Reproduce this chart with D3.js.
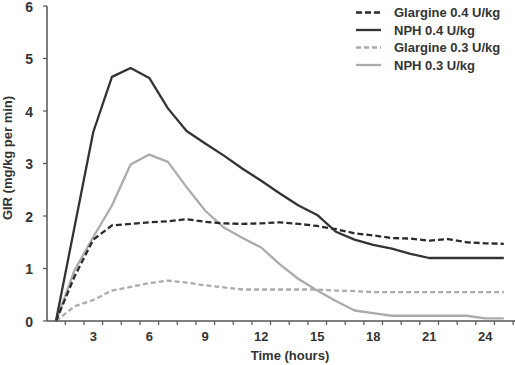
<!DOCTYPE html>
<html><head><meta charset="utf-8">
<script src="https://cdn.jsdelivr.net/npm/d3@7"></script>
<style>
body{margin:0;background:#fff;}
text{font-family:"Liberation Sans",Arial,sans-serif;}
</style></head>
<body><svg id="c" width="515" height="365"></svg>
<script>
const hours = [1,2,3,4,5,6,7,8,9,10,11,12,13,14,15,16,17,18,19,20,21,22,23,24,25];
const nph04 = [0,null,3.6,4.65,4.82,4.63,4.05,3.62,3.38,3.15,2.9,2.67,2.43,2.2,2.02,1.7,1.55,1.45,1.38,1.28,1.2,1.2,1.2,1.2,1.2];
const glar04 = [0,0.85,1.55,1.82,1.85,1.88,1.9,1.94,1.89,1.86,1.85,1.86,1.88,1.85,1.81,1.75,1.67,1.63,1.58,1.57,1.53,1.56,1.5,1.48,1.47];
const nph03 = [0,0.97,1.6,2.2,2.98,3.17,3.03,2.55,2.1,1.78,1.58,1.4,1.08,0.8,0.58,0.38,0.2,0.15,0.1,0.1,0.1,0.1,0.1,0.05,0.05];
const glar03 = [0,0.28,0.4,0.58,0.65,0.72,0.77,0.73,0.68,0.64,0.6,0.6,0.6,0.6,0.6,0.58,0.57,0.55,0.55,0.55,0.55,0.55,0.55,0.55,0.55];
const seriesNames = ["Glargine 0.4 U/kg","NPH 0.4 U/kg","Glargine 0.3 U/kg","NPH 0.3 U/kg"];
const xTickLabels = [3,6,9,12,15,18,21,24];
const yTickLabels = [0,1,2,3,4,5,6];

const svg = d3.select("#c");
const x = d3.scaleLinear().domain([0.52,25.6]).range([47,515]);
const y = d3.scaleLinear().domain([0,6]).range([321,6]);

const series = [
  {name:seriesNames[0], vals:glar04, color:"#2b2b2b", dash:"6,3"},
  {name:seriesNames[1], vals:nph04, color:"#333333", dash:null},
  {name:seriesNames[2], vals:glar03, color:"#ababab", dash:"5,3"},
  {name:seriesNames[3], vals:nph03, color:"#ababab", dash:null}
];

const line = d3.line().x(d=>x(d[0])).y(d=>y(d[1]));
const draw = [series[2], series[3], series[0], series[1]];
draw.forEach(s=>{
  const pts = hours.map((h,i)=>[h,s.vals[i]]).filter(d=>d[1]!==null);
  svg.append("path").attr("d", line(pts)).attr("fill","none")
    .attr("stroke", s.color).attr("stroke-width", 2.3)
    .attr("stroke-linejoin","round")
    .attr("stroke-dasharray", s.dash);
});

// axes
const axCol = "#555";
const xTicks = d3.range(1.5, 26, 1);
const gx = svg.append("g").attr("transform","translate(0,321)");
gx.append("line").attr("x1",47).attr("x2",515).attr("stroke",axCol).attr("stroke-width",1.5);
gx.selectAll("line.t").data(xTicks).join("line").attr("class","t")
  .attr("x1",d=>x(d)).attr("x2",d=>x(d)).attr("y1",0).attr("y2",4).attr("stroke",axCol).attr("stroke-width",1.2);
gx.selectAll("text").data(xTickLabels).join("text")
  .attr("x",d=>x(d)).attr("y",20).attr("text-anchor","middle")
  .attr("font-size",13).attr("font-weight","bold").attr("fill","#333").text(d=>d);

const gy = svg.append("g");
gy.append("line").attr("x1",47).attr("x2",47).attr("y1",y(6)).attr("y2",321).attr("stroke",axCol).attr("stroke-width",1.5);
gy.selectAll("line.t").data(yTickLabels).join("line").attr("class","t")
  .attr("x1",43).attr("x2",47).attr("y1",d=>y(d)).attr("y2",d=>y(d)).attr("stroke",axCol).attr("stroke-width",1.2);
gy.selectAll("text").data(yTickLabels).join("text")
  .attr("x",33).attr("y",d=>y(d)+5.5).attr("text-anchor","end")
  .attr("font-size",14).attr("font-weight","bold").attr("fill","#333").text(d=>d);

svg.append("text").attr("x",290).attr("y",360).attr("text-anchor","middle")
  .attr("font-size",13).attr("font-weight","bold").attr("fill","#333").text("Time (hours)");
svg.append("text").attr("transform","translate(12,158) rotate(-90)").attr("text-anchor","middle")
  .attr("font-size",13).attr("font-weight","bold").attr("fill","#333").text("GIR (mg/kg per min)");

// legend
const lg = svg.append("g");
series.forEach((s,i)=>{
  const yy = 12.5 + i*17.5;
  lg.append("line").attr("x1",356).attr("x2",381).attr("y1",yy).attr("y2",yy)
    .attr("stroke",s.color).attr("stroke-width",2.3).attr("stroke-dasharray",s.dash);
  lg.append("text").attr("x",394).attr("y",yy+4.5).attr("font-size",13).attr("font-weight","bold")
    .attr("fill","#333").text(s.name);
});
</script></body></html>
